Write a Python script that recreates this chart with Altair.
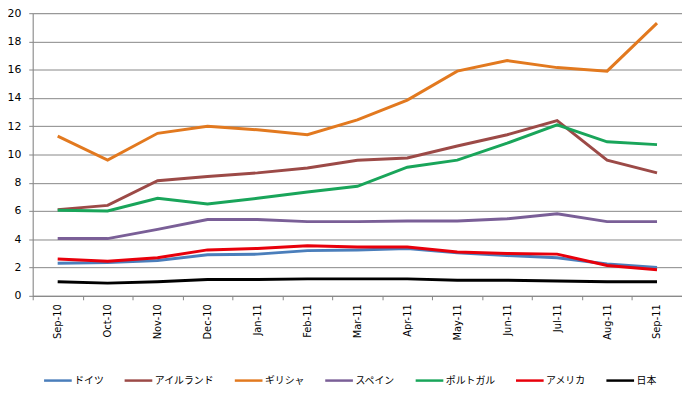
import altair as alt
import pandas as pd

months = ["Sep-10", "Oct-10", "Nov-10", "Dec-10", "Jan-11", "Feb-11", "Mar-11",
          "Apr-11", "May-11", "Jun-11", "Jul-11", "Aug-11", "Sep-11"]

series_names = ["ドイツ", "アイルランド", "ギリシャ", "スペイン", "ポルトガル", "アメリカ", "日本"]
series_colors = ["#4A7EBB", "#9C4A47", "#E2791F", "#7A5F97", "#19A55A", "#E8000B", "#000000"]

germany  = [2.3, 2.35, 2.5, 2.9, 2.95, 3.2, 3.25, 3.35, 3.05, 2.85, 2.7, 2.25, 2.0]
ireland  = [6.1, 6.4, 8.15, 8.45, 8.7, 9.05, 9.6, 9.75, 10.6, 11.4, 12.4, 9.6, 8.7]
greece   = [11.3, 9.6, 11.5, 12.0, 11.75, 11.4, 12.45, 13.85, 15.9, 16.65, 16.15, 15.9, 19.3]
spain    = [4.05, 4.05, 4.7, 5.4, 5.4, 5.25, 5.25, 5.3, 5.3, 5.45, 5.8, 5.25, 5.25]
portugal = [6.05, 6.0, 6.9, 6.5, 6.9, 7.35, 7.75, 9.1, 9.6, 10.8, 12.1, 10.9, 10.7]
usa      = [2.6, 2.45, 2.7, 3.25, 3.35, 3.55, 3.45, 3.45, 3.1, 3.0, 2.95, 2.15, 1.85]
japan    = [1.0, 0.9, 1.0, 1.15, 1.15, 1.2, 1.2, 1.2, 1.1, 1.1, 1.05, 1.0, 1.0]

y_ticks = [0, 2, 4, 6, 8, 10, 12, 14, 16, 18, 20]

all_series = [germany, ireland, greece, spain, portugal, usa, japan]
rows = []
for order, (name, vals) in enumerate(zip(series_names, all_series)):
    for m, v in zip(months, vals):
        rows.append({"month": m, "value": v, "series": name, "order": order})
df = pd.DataFrame(rows)

chart = alt.Chart(df).mark_line(strokeWidth=3).encode(
    x=alt.X("month:O", sort=months, bandPosition=0.5,
            scale=alt.Scale(type="band", domain=months, paddingInner=0, paddingOuter=0),
            axis=alt.Axis(title=None, labelAngle=270, tickBand="extent", tickSize=4,
                          labelPadding=4, domainColor="#868686", tickColor="#868686",
                          labelFont="DejaVu Sans", labelFontSize=10, labelColor="#000000",
                          grid=False)),
    y=alt.Y("value:Q", scale=alt.Scale(domain=[0, 20], nice=False),
            axis=alt.Axis(title=None, values=y_ticks, tickSize=4, labelPadding=8,
                          domainColor="#868686", tickColor="#868686", gridColor="#868686",
                          gridWidth=1, labelFont="DejaVu Sans", labelFontSize=11,
                          labelColor="#000000")),
    color=alt.Color("series:N", sort=series_names,
                    scale=alt.Scale(domain=series_names, range=series_colors),
                    legend=alt.Legend(title=None, orient="none", direction="horizontal",
                                      columns=7, legendX=10, legendY=356,
                                      symbolType="stroke", symbolSize=784,
                                      symbolStrokeWidth=2.5, labelOffset=1,
                                      columnPadding=15.5, labelFont="Noto Sans CJK JP",
                                      labelFontSize=10, labelFontWeight="normal",
                                      labelColor="#000000")),
    order=alt.Order("order:Q"),
).properties(
    width=657,
    height=286,
    autosize=alt.AutoSizeParams(type="none"),
    padding={"left": 25, "top": 3, "right": 0, "bottom": 90},
).configure_view(stroke=None).configure(background="white")

chart.save("out.html", embed_options={"renderer": "svg", "actions": False})
